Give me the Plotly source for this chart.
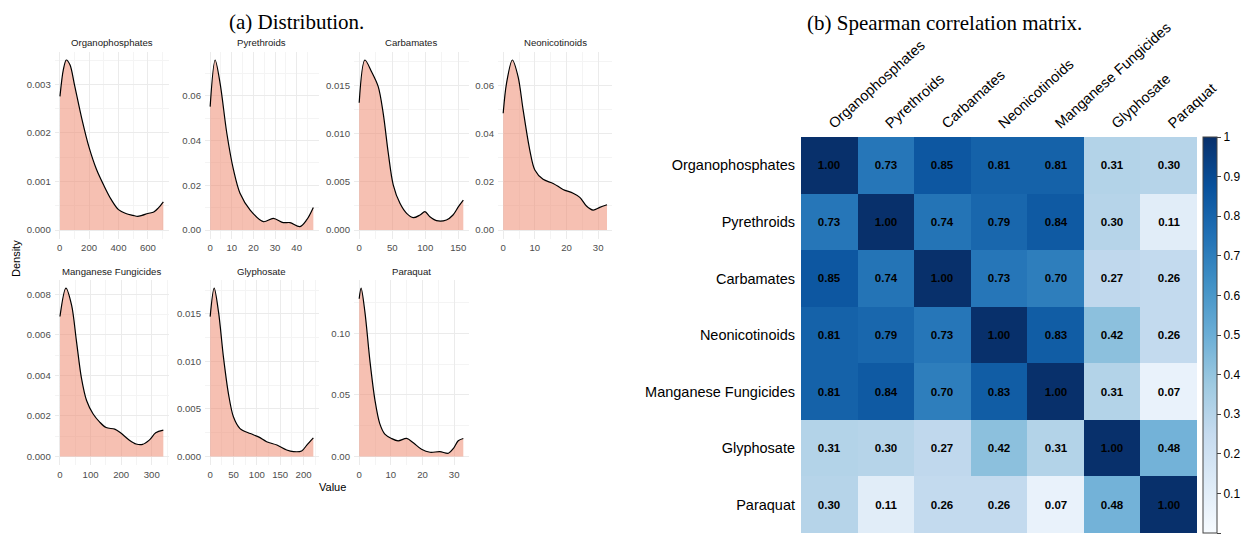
import plotly.graph_objects as go

W, H = 1243, 535

# ---------------- data: density curves ----------------
organo_x = [2, 25, 45, 70, 100, 150, 200, 250, 300, 350, 400, 450, 500, 530, 560, 600, 640, 670, 705]
organo_y = [0.00275, 0.0033, 0.0035, 0.0034, 0.0030, 0.0023, 0.0017, 0.00125, 0.00092, 0.00063,
            0.00042, 0.00034, 0.00030, 0.00028, 0.00030, 0.00034, 0.00037, 0.00045, 0.00058]

pyre_x = [0, 2.3, 4.6, 7.7, 10.8, 13.8, 18.5, 24.6, 29.2, 33.8, 36.9, 41.5, 44.6, 47.7]
pyre_y = [0.0551, 0.0759, 0.0655, 0.0432, 0.0268, 0.0164, 0.0089, 0.0037, 0.0052, 0.0033,
          0.0033, 0.0015, 0.0045, 0.0101]

carb_x = [0, 8.6, 18.7, 28.8, 36.4, 44, 51.5, 61.7, 71.8, 81.8, 92, 99.5, 107, 117, 132, 142, 150, 157.6]
carb_y = [0.01323, 0.01767, 0.01645, 0.0149, 0.0121, 0.0080, 0.0047, 0.00277, 0.00173, 0.00128,
          0.00156, 0.0019, 0.00138, 0.00097, 0.00104, 0.00156, 0.0024, 0.0031]

neo_x = [0, 1.05, 2.9, 4.7, 6.3, 8.4, 10, 12.6, 15.8, 18.9, 22.1, 24.2, 26.3, 28.4, 30.5, 32.8]
neo_y = [0.0486, 0.0611, 0.0708, 0.0639, 0.050, 0.0333, 0.025, 0.0211, 0.0194, 0.0169, 0.0153,
         0.0136, 0.0100, 0.0083, 0.0094, 0.0105]

mang_x = [0, 19.5, 38, 54, 70, 87, 108, 130, 151, 179, 198, 227, 249, 270, 292, 313, 338]
mang_y = [0.0069, 0.0083, 0.00746, 0.00568, 0.00389, 0.00276, 0.00211, 0.0017, 0.00143, 0.00135,
          0.00117, 0.00081, 0.00062, 0.0006, 0.00081, 0.00117, 0.0013]

gly_x = [0, 8.6, 17.9, 28.6, 39.3, 50, 64, 86, 103.5, 121, 143, 164, 178.6, 196, 207, 221]
gly_y = [0.0147, 0.0177, 0.0152, 0.0104, 0.00657, 0.00415, 0.00294, 0.00242, 0.00207, 0.00156,
         0.00121, 0.00069, 0.00052, 0.00059, 0.00121, 0.00197]

para_x = [0, 0.6, 1.8, 3.4, 5, 6.5, 8.1, 10.2, 12.3, 15, 17.1, 19.7, 22.4, 25.5, 28.2, 29.8, 31.3, 32.9]
para_y = [0.128, 0.1366, 0.1174, 0.0774, 0.0454, 0.0267, 0.0182, 0.0147, 0.0128, 0.0147, 0.0112,
          0.0059, 0.0035, 0.0040, 0.0027, 0.0067, 0.0128, 0.0147]

panel_names = ["Organophosphates", "Pyrethroids", "Carbamates", "Neonicotinoids",
               "Manganese Fungicides", "Glyphosate", "Paraquat"]
x_ticks = [[0, 200, 400, 600], [0, 10, 20, 30, 40], [0, 50, 100, 150], [0, 10, 20, 30],
           [0, 100, 200, 300], [0, 50, 100, 150, 200], [0, 10, 20, 30]]
y_ticks = [[0, 0.001, 0.002, 0.003], [0, 0.02, 0.04, 0.06], [0, 0.005, 0.010, 0.015],
           [0, 0.02, 0.04, 0.06], [0, 0.002, 0.004, 0.006, 0.008], [0, 0.005, 0.010, 0.015],
           [0, 0.05, 0.10]]
y_fmt = [".3f", ".2f", ".3f", ".2f", ".3f", ".3f", ".2f"]

# ---------------- data: correlation matrix ----------------
corr_labels = ["Organophosphates", "Pyrethroids", "Carbamates", "Neonicotinoids",
               "Manganese Fungicides", "Glyphosate", "Paraquat"]
corr_values = [
    [1.00, 0.73, 0.85, 0.81, 0.81, 0.31, 0.30],
    [0.73, 1.00, 0.74, 0.79, 0.84, 0.30, 0.11],
    [0.85, 0.74, 1.00, 0.73, 0.70, 0.27, 0.26],
    [0.81, 0.79, 0.73, 1.00, 0.83, 0.42, 0.26],
    [0.81, 0.84, 0.70, 0.83, 1.00, 0.31, 0.07],
    [0.31, 0.30, 0.27, 0.42, 0.31, 1.00, 0.48],
    [0.30, 0.11, 0.26, 0.26, 0.07, 0.48, 1.00],
]
cbar_ticks = [0, 0.1, 0.2, 0.3, 0.4, 0.5, 0.6, 0.7, 0.8, 0.9, 1]
cbar_text = ["0", "0.1", "0.2", "0.3", "0.4", "0.5", "0.6", "0.7", "0.8", "0.9", "1"]

curves = [(organo_x, organo_y), (pyre_x, pyre_y), (carb_x, carb_y), (neo_x, neo_y),
          (mang_x, mang_y), (gly_x, gly_y), (para_x, para_y)]

# ---------------- layout geometry (pixels) ----------------
cols_px = [(54.8, 168.5), (205, 318.5), (354, 468.5), (498, 612.2)]
rows_px = [(51.5, 238.5), (279.7, 465)]
positions = [(0, 0), (0, 1), (0, 2), (0, 3), (1, 0), (1, 1), (1, 2)]


def fx(p):
    return p / W


def fy(p):
    return 1 - p / H


fig = go.Figure()
layout = dict(
    width=W, height=H, margin=dict(l=0, r=0, t=0, b=0, autoexpand=False),
    paper_bgcolor="white", plot_bgcolor="white", showlegend=False,
    font=dict(family="Liberation Sans", color="#1a1a1a"),
)
annotations = []

FILL = "rgba(238,140,115,0.55)"
GRID = "#ebebeb"
MINOR = "#f4f4f4"

for i, ((xs, ys), (r, c)) in enumerate(zip(curves, positions)):
    k = i + 1
    xa = "x" if k == 1 else f"x{k}"
    ya = "y" if k == 1 else f"y{k}"
    fig.add_trace(go.Scatter(
        x=xs, y=ys, mode="lines", xaxis=xa, yaxis=ya,
        line=dict(color="black", width=1.2, shape="spline", smoothing=0.9),
        fill="tozeroy", fillcolor=FILL, hoverinfo="skip"))
    xmin, xmax = min(xs), max(xs)
    ymax = max(ys)
    xr = xmax - xmin
    x0, x1 = cols_px[c]
    y0, y1 = rows_px[r]
    xt = x_ticks[i]
    yt = y_ticks[i]
    xstep = xt[1] - xt[0]
    ystep = yt[1] - yt[0]
    layout["xaxis" if k == 1 else f"xaxis{k}"] = dict(
        domain=[fx(x0), fx(x1)], anchor=ya,
        range=[xmin - 0.05 * xr, xmax + 0.05 * xr],
        tickvals=xt, ticks="", showline=False, zeroline=False,
        showgrid=True, gridcolor=GRID, gridwidth=1,
        minor=dict(showgrid=True, gridcolor=MINOR, tick0=0, dtick=xstep / 2, ticks=""),
        tickfont=dict(size=9.6, color="#4d4d4d"), ticklabelstandoff=2)
    layout["yaxis" if k == 1 else f"yaxis{k}"] = dict(
        domain=[fy(y1), fy(y0)], anchor=xa,
        range=[-0.05 * ymax, 1.05 * ymax],
        tickvals=yt, tickformat=y_fmt[i], ticks="", showline=False, zeroline=False,
        showgrid=True, gridcolor=GRID, gridwidth=1,
        minor=dict(showgrid=True, gridcolor=MINOR, tick0=0, dtick=ystep / 2, ticks=""),
        tickfont=dict(size=9.6, color="#4d4d4d"), ticklabelstandoff=3)
    annotations.append(dict(
        text=panel_names[i], xref="paper", yref="paper",
        x=fx((x0 + x1) / 2), y=fy(y0 - 8.5), xanchor="center", yanchor="middle",
        showarrow=False, font=dict(size=9.6, color="#1a1a1a")))

# axis titles of the facet grid
annotations.append(dict(text="Density", xref="paper", yref="paper", x=fx(16), y=fy(258),
                        textangle=-90, showarrow=False, xanchor="center", yanchor="middle",
                        font=dict(size=11, color="black")))
annotations.append(dict(text="Value", xref="paper", yref="paper", x=fx(333), y=fy(487),
                        showarrow=False, xanchor="center", yanchor="middle",
                        font=dict(size=11, color="black")))

# panel titles
annotations.append(dict(text="(a) Distribution.", xref="paper", yref="paper", x=fx(296), y=fy(22),
                        showarrow=False, xanchor="center", yanchor="middle",
                        font=dict(family="Liberation Serif", size=21, color="black")))
annotations.append(dict(text="(b) Spearman correlation matrix.", xref="paper", yref="paper",
                        x=fx(944.5), y=fy(23), showarrow=False, xanchor="center", yanchor="middle",
                        font=dict(family="Liberation Serif", size=21, color="black")))

# ---------------- heatmap ----------------
blues = [[0.0, "rgb(247,251,255)"], [0.125, "rgb(222,235,247)"], [0.25, "rgb(198,219,239)"],
         [0.375, "rgb(158,202,225)"], [0.5, "rgb(107,174,214)"], [0.625, "rgb(66,146,198)"],
         [0.75, "rgb(33,113,181)"], [0.875, "rgb(8,81,156)"], [1.0, "rgb(8,48,107)"]]

hm_x = (801, 1197)
hm_y = (137, 533)
fig.add_trace(go.Heatmap(
    z=corr_values, x=corr_labels, y=corr_labels, xaxis="x8", yaxis="y8",
    colorscale=blues, zmin=0, zmax=1,
    texttemplate="<b>%{z:.2f}</b>", textfont=dict(size=11.5, color="black", family="Liberation Sans"),
    hoverinfo="skip",
    colorbar=dict(
        x=fx(1203), xanchor="left", xpad=0, ypad=0,
        y=fy((hm_y[0] + hm_y[1]) / 2), yanchor="middle",
        len=hm_y[1] - hm_y[0], lenmode="pixels", thickness=14, thicknessmode="pixels",
        outlinewidth=1, outlinecolor="#444",
        tickvals=cbar_ticks, ticktext=cbar_text, ticks="outside", ticklen=4,
        tickcolor="#444", tickfont=dict(size=12, color="black"))))

layout["xaxis8"] = dict(domain=[fx(hm_x[0]), fx(hm_x[1])], anchor="y8", side="top",
                        tickangle=-42, showgrid=False, zeroline=False, showline=False, ticks="",
                        tickfont=dict(size=14.5, color="black"), ticklabelstandoff=2)
layout["yaxis8"] = dict(domain=[fy(hm_y[1]), fy(hm_y[0])], anchor="x8", autorange="reversed",
                        showgrid=False, zeroline=False, showline=False, ticks="",
                        tickfont=dict(size=14.5, color="black"), ticklabelstandoff=5)

layout["annotations"] = annotations
fig.update_layout(**layout)
fig.write_html("out.html", config={"displayModeBar": False},
               post_script="document.body.style.margin='0px';document.body.style.padding='0px';"
                           "document.body.style.overflow='hidden';")
